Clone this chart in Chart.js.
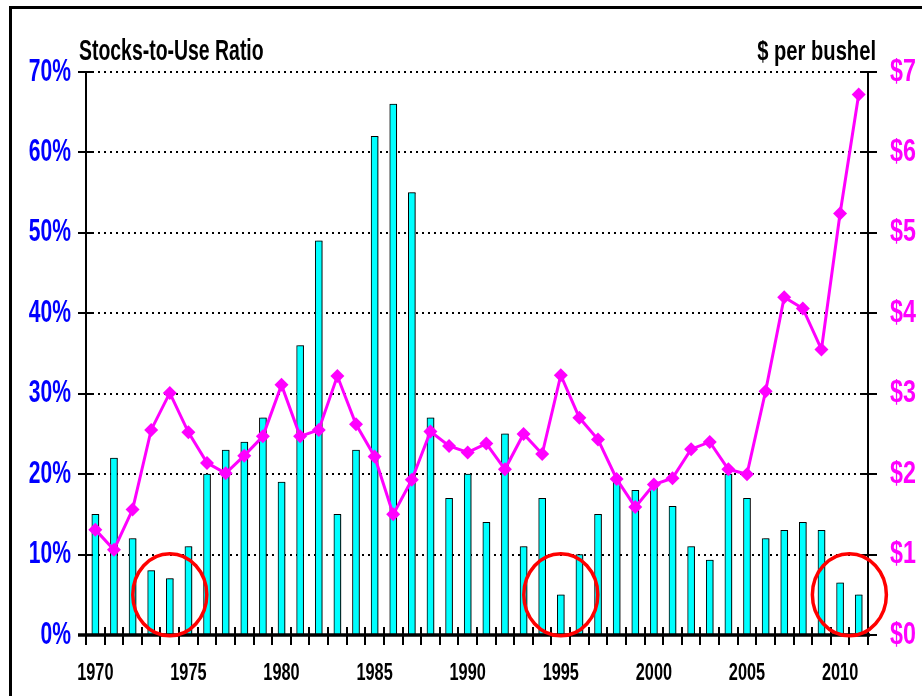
<!DOCTYPE html>
<html><head><meta charset="utf-8">
<script src="https://cdn.jsdelivr.net/npm/chart.js@4.4.1/dist/chart.umd.min.js"></script>
<style>html,body{margin:0;padding:0;background:#fff}#wrap{position:relative;width:922px;height:696px;overflow:hidden}canvas{display:block}</style>
</head><body><div id="wrap"><canvas id="c" width="922" height="696"></canvas></div>
<script>
const years = ['1970','1971','1972','1973','1974','1975','1976','1977','1978','1979','1980','1981','1982','1983','1984','1985','1986','1987','1988','1989','1990','1991','1992','1993','1994','1995','1996','1997','1998','1999','2000','2001','2002','2003','2004','2005','2006','2007','2008','2009','2010','2011'];
const stocksToUse = [15,22,12,8,7,11,20,23,24,27,19,36,49,15,23,62,66,55,27,17,20,14,25,11,17,5,10,15,19,18,19,16,11,9.3,20,17,12,13,14,13,6.5,5];
const pricePerBushel = [1.31,1.06,1.56,2.55,3.01,2.52,2.14,2.01,2.23,2.47,3.11,2.47,2.55,3.22,2.62,2.22,1.50,1.93,2.53,2.35,2.27,2.38,2.06,2.50,2.25,3.23,2.70,2.43,1.94,1.59,1.87,1.95,2.31,2.40,2.06,2.00,3.03,4.20,4.06,3.55,5.24,6.72];
const labeledYears = ['1970','1975','1980','1985','1990','1995','2000','2005','2010'];
const leftAxisTitle = 'Stocks-to-Use Ratio';
const rightAxisTitle = '$ per bushel';
const circledGroups = [['1973','1974','1975'],['1995'],['2010','2011']];
const circleLevel = 5;

const FONT = "'Liberation Sans', Arial, sans-serif";
// horizontal squeeze per scale to imitate a condensed face
const squeeze = { x: 0.68, y: 0.68, y2: 0.75 };

function condenseScale(scale, s) {
  if (scale._condensed) return;
  scale._condensed = true;
  scale._computeLabelArea = function () { return undefined; };
  const orig = scale.drawLabels.bind(scale);
  scale.drawLabels = function (area) {
    const items = this.getLabelItems(area);
    const saved = items.map(it => it.options.translation[0]);
    items.forEach(it => { it.options.translation[0] = it.options.translation[0] / s; });
    const ctx = this.ctx;
    ctx.save();
    ctx.scale(s, 1);
    orig(area);
    ctx.restore();
    items.forEach((it, i) => { it.options.translation[0] = saved[i]; });
  };
}

const decor = {
  id: 'decor',
  beforeDraw(chart) {
    Object.keys(squeeze).forEach(k => condenseScale(chart.scales[k], squeeze[k]));
    const ctx = chart.ctx;
    ctx.save();
    ctx.fillStyle = '#fff';
    ctx.fillRect(0, 0, chart.width, chart.height);
    ctx.strokeStyle = '#000';
    ctx.lineWidth = 3;
    ctx.beginPath();
    ctx.moveTo(10.5, 720); ctx.lineTo(10.5, 7.5); ctx.lineTo(940, 7.5);
    ctx.stroke();
    ctx.fillStyle = '#000';
    ctx.textBaseline = 'alphabetic';
    ctx.font = "bold 29px " + FONT;
    ctx.textAlign = 'left';
    ctx.save(); ctx.translate(79, 60); ctx.scale(0.67, 1); ctx.fillText(leftAxisTitle, 0, 0); ctx.restore();
    ctx.font = "bold 28px " + FONT;
    ctx.textAlign = 'right';
    ctx.save(); ctx.translate(876, 60); ctx.scale(0.72, 1); ctx.fillText(rightAxisTitle, 0, 0); ctx.restore();
    ctx.restore();
  },
  beforeDatasetDraw(chart, args) {
    const ctx = chart.ctx;
    ctx.save();
    if (args.meta.type === 'bar') {
      ctx.shadowColor = 'rgba(0,0,0,0.45)';
      ctx.shadowOffsetX = 2;
      ctx.shadowOffsetY = 0;
      ctx.shadowBlur = 0;
    }
  },
  afterDatasetDraw(chart) {
    chart.ctx.restore();
  },
  afterDatasetsDraw(chart) {
    const ctx = chart.ctx;
    const x = chart.scales.x, y = chart.scales.y, y2 = chart.scales.y2;
    const a = chart.chartArea;
    ctx.save();
    ctx.strokeStyle = '#000';
    ctx.lineWidth = 2;
    ctx.beginPath(); ctx.moveTo(a.left, a.top); ctx.lineTo(a.left, a.bottom); ctx.stroke();
    y.ticks.forEach(t => { const py = Math.round(y.getPixelForValue(t.value)); ctx.beginPath(); ctx.moveTo(a.left - 8, py); ctx.lineTo(a.left + 7, py); ctx.stroke(); });
    ctx.beginPath(); ctx.moveTo(a.right, a.top); ctx.lineTo(a.right, a.bottom); ctx.stroke();
    y2.ticks.forEach(t => { const py = Math.round(y2.getPixelForValue(t.value)); ctx.beginPath(); ctx.moveTo(a.right - 8, py); ctx.lineTo(a.right + 9, py); ctx.stroke(); });
    ctx.lineWidth = 3.5;
    ctx.beginPath(); ctx.moveTo(a.left - 8, a.bottom); ctx.lineTo(a.right + 2, a.bottom); ctx.stroke();
    ctx.lineWidth = 2;
    const n = x.ticks.length;
    for (let i = 0; i <= n; i++) {
      const px = Math.round(a.left + (a.right - a.left) * i / n);
      ctx.beginPath(); ctx.moveTo(px, a.bottom - 8); ctx.lineTo(px, a.bottom + 10); ctx.stroke();
    }
    ctx.restore();
  },
  afterDraw(chart) {
    const ctx = chart.ctx;
    const x = chart.scales.x, y = chart.scales.y;
    ctx.save();
    ctx.strokeStyle = '#FF0000';
    ctx.lineWidth = 3.5;
    circledGroups.forEach(g => {
      const xs = g.map(v => x.getPixelForValue(years.indexOf(v)));
      const cx = (Math.min(...xs) + Math.max(...xs)) / 2;
      const cy = y.getPixelForValue(circleLevel);
      ctx.beginPath(); ctx.ellipse(cx, cy, 37, 41, 0, 0, Math.PI * 2); ctx.stroke();
    });
    ctx.restore();
  }
};

new Chart(document.getElementById('c'), {
  data: {
    labels: years,
    datasets: [
      {
        type: 'line', label: 'Price', data: pricePerBushel, yAxisID: 'y2', order: 1,
        borderColor: '#FF00FF', backgroundColor: '#FF00FF', borderWidth: 3, tension: 0,
        pointStyle: 'rectRot', pointRadius: 7, pointBackgroundColor: '#FF00FF', pointBorderWidth: 0
      },
      {
        type: 'bar', label: 'Stocks-to-Use', data: stocksToUse, yAxisID: 'y', order: 2,
        backgroundColor: '#00FFFF', borderColor: '#000', borderWidth: 1, barThickness: 7, borderSkipped: 'bottom'
      }
    ]
  },
  plugins: [decor],
  options: {
    responsive: false, animation: false, devicePixelRatio: 1,
    layout: { padding: { top: 72, left: 0, right: 0, bottom: 0 } },
    plugins: { legend: { display: false }, tooltip: { enabled: false }, title: { display: false } },
    scales: {
      x: {
        type: 'category', offset: true,
        grid: { display: false, offset: true },
        border: { display: false },
        ticks: {
          autoSkip: false, maxRotation: 0, minRotation: 0, padding: 16, color: '#000',
          font: { family: FONT, size: 24, weight: 'bold' },
          callback: function (v) { const l = this.getLabelForValue(v); return labeledYears.includes(l) ? l : ''; }
        },
        afterFit: s => { s.height = 61; }
      },
      y: {
        position: 'left', min: 0, max: 70,
        grid: { color: '#000', lineWidth: 2, drawTicks: false },
        border: { display: false, dash: [2, 4] },
        ticks: { stepSize: 10, padding: 15, color: '#0000FF', font: { family: FONT, size: 31, weight: 'bold' }, callback: v => v + '%' },
        afterFit: s => { s.width = 86; }
      },
      y2: {
        position: 'right', min: 0, max: 7,
        grid: { display: false, drawOnChartArea: false, drawTicks: false },
        border: { display: false },
        ticks: { stepSize: 1, padding: 22, color: '#FF00FF', font: { family: FONT, size: 31, weight: 'bold' }, callback: v => '$' + v },
        afterFit: s => { s.width = 54; }
      }
    }
  }
});
</script>
</body></html>
